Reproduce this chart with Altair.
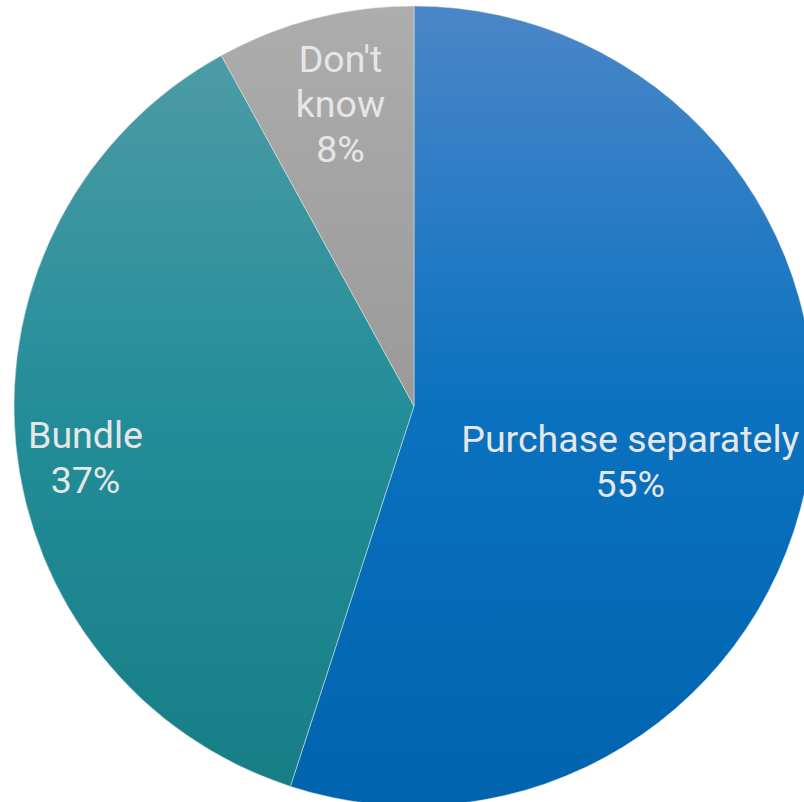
import altair as alt
import pandas as pd

categories = ["Purchase separately", "Bundle", "Don't know"]
shares = [55, 37, 8]
labels = ["Purchase separately\n55%", "Bundle\n37%", "Don't\nknow\n8%"]

df = pd.DataFrame({"cat": categories, "share": shares, "label": labels, "order": [0, 1, 2]})

gradients = {
    "Purchase separately": ["#4a86c8", "#0a72c0", "#0063ae"],
    "Bundle": ["#4c9ba5", "#228d98", "#177e86"],
    "Don't know": ["#adadad", "#a3a3a3", "#9a9a9a"],
}
# label anchor radius and horizontal nudge (layout only)
label_layout = {"Purchase separately": (223, -4), "Bundle": (332, 2), "Don't know": (356, 15)}

CX, CY, R = 414, 406, 400

base = alt.Chart(df).transform_window(
    cum="sum(share)", sort=[alt.SortField("order")], frame=[None, 0]
).transform_joinaggregate(total="sum(share)").transform_calculate(
    t0="(datum.cum - datum.share) / datum.total * 2 * PI",
    t1="datum.cum / datum.total * 2 * PI",
    tm="(datum.cum - datum.share / 2) / datum.total * 2 * PI",
)

layers = []
for c in categories:
    stops = gradients[c]
    grad = alt.LinearGradient(
        gradient="linear",
        stops=[
            alt.GradientStop(color=stops[0], offset=0),
            alt.GradientStop(color=stops[1], offset=0.5),
            alt.GradientStop(color=stops[2], offset=1),
        ],
        x1=0, x2=0, y1=0, y2=1,
    )
    layers.append(
        base.transform_filter(alt.datum.cat == c)
        .mark_arc(outerRadius=R, color=grad, stroke="#e8e8e8", strokeWidth=0.5)
        .encode(
            theta=alt.Theta("t0:Q", scale=None),
            theta2="t1:Q",
            x=alt.value(CX),
            y=alt.value(CY),
        )
    )

texts = []
for c in categories:
    r, dx = label_layout[c]
    texts.append(
        base.transform_filter(alt.datum.cat == c).mark_text(
            font="Roboto", fontSize=37.5, color="#e6e6e6", lineBreak="\n",
            lineHeight=45, align="center", baseline="middle", dx=dx
        ).encode(
            theta=alt.Theta("tm:Q", scale=None),
            radius=alt.value(r),
            x=alt.value(CX),
            y=alt.value(CY),
            text="label:N",
        )
    )

chart = alt.layer(*layers, *texts).properties(
    width=804, height=802, autosize="none", padding=0
).configure_view(stroke=None)

chart.save("out.html", embed_options={"renderer": "svg", "actions": False})
